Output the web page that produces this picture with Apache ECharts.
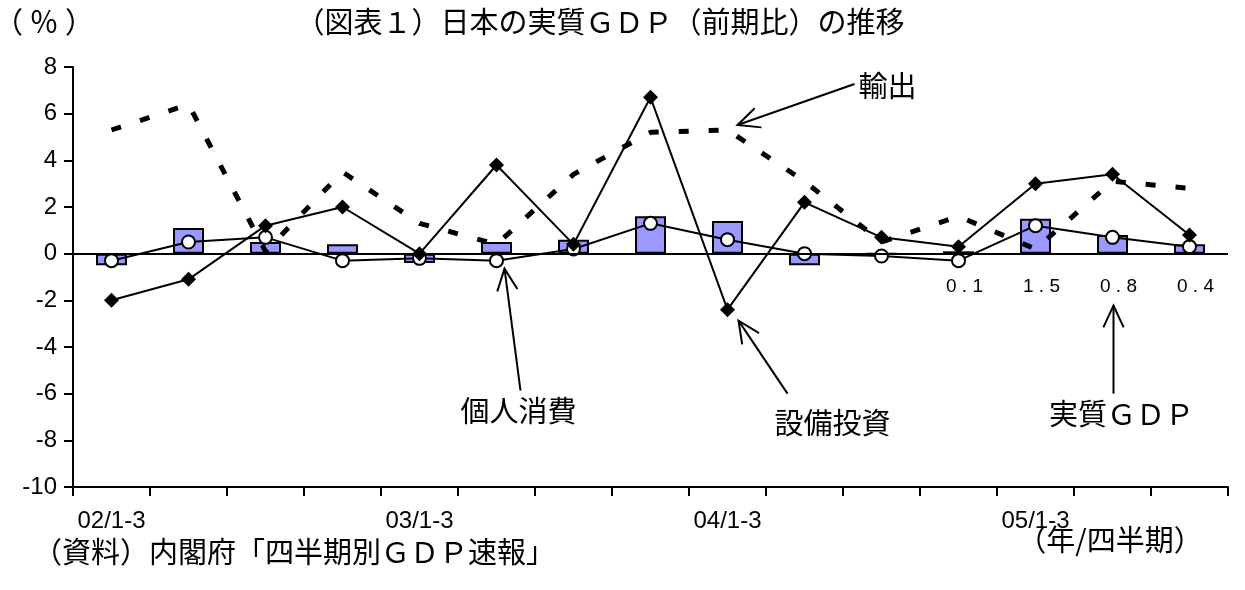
<!DOCTYPE html>
<html>
<head>
<meta charset="utf-8">
<script src="https://cdn.jsdelivr.net/npm/echarts@6/dist/echarts.min.js"></script>
<style>
  html, body { margin: 0; padding: 0; background: #ffffff; }
  #chart { width: 1245px; height: 590px; }
</style>
</head>
<body>
<div id="chart"></div>
<script>
// Quarterly growth rates, % change from previous quarter
const quarters = [
  '02/1-3', '02/4-6', '02/7-9', '02/10-12',
  '03/1-3', '03/4-6', '03/7-9', '03/10-12',
  '04/1-3', '04/4-6', '04/7-9', '04/10-12',
  '05/1-3', '05/4-6', '05/7-9'
];
const realGdp     = [-0.5, 1.1, 0.5, 0.4, -0.4, 0.5, 0.6, 1.6, 1.4, -0.5, 0.0, 0.1, 1.5, 0.8, 0.4];
const consumption = [-0.3, 0.5, 0.7, -0.3, -0.2, -0.3, 0.2, 1.3, 0.6, 0.0, -0.1, -0.3, 1.2, 0.7, 0.3];
const investment  = [-2.0, -1.1, 1.2, 2.0, 0.0, 3.8, 0.4, 6.7, -2.4, 2.2, 0.7, 0.3, 3.0, 3.4, 0.8];
const exportsGrowth = [5.3, 6.4, 0.1, 3.5, 1.3, 0.4, 3.4, 5.2, 5.3, 3.1, 0.5, 1.6, 0.2, 3.1, 2.8];
const yMin = -10, yMax = 8, yStep = 2;
const labelledBars = 4; // the most recent quarters show their GDP value

const CJK = '"Noto Sans CJK JP", "Noto Sans", sans-serif';
const LAT = '"Liberation Sans", Arial, sans-serif';
const CJK_SIZE = 29;

const chart = echarts.init(document.getElementById('chart'), null, { renderer: 'canvas' });

const barData = realGdp.map((v, i) => {
  if (i >= realGdp.length - labelledBars) {
    return { value: v, label: { show: true } };
  }
  return v;
});

chart.setOption({
  animation: false,
  backgroundColor: '#ffffff',
  grid: { left: 73, right: 17, top: 67, bottom: 103, containLabel: false },
  xAxis: {
    type: 'category',
    data: quarters,
    boundaryGap: true,
    axisLine: { onZero: false, lineStyle: { color: '#000', width: 2 } },
    axisTick: { show: true, interval: 0, length: 9, lineStyle: { color: '#000', width: 2 } },
    axisLabel: { interval: 3, color: '#000', fontFamily: LAT, fontSize: 24, margin: 22 },
    splitLine: { show: false }
  },
  yAxis: {
    type: 'value',
    min: yMin, max: yMax, interval: yStep,
    axisLine: { show: true, lineStyle: { color: '#000', width: 2 } },
    axisTick: { show: true, length: 9, lineStyle: { color: '#000', width: 2 } },
    axisLabel: { color: '#000', fontFamily: LAT, fontSize: 24, margin: 16 },
    splitLine: { show: false }
  },
  series: [
    {
      name: '実質GDP',
      type: 'bar',
      data: barData,
      barWidth: 31,
      itemStyle: { color: '#9999FF', borderColor: '#000', borderWidth: 2 },
      label: {
        show: false,
        position: 'bottom',
        distance: 24,
        offset: [6, 0],
        color: '#000',
        fontFamily: LAT,
        fontSize: 19,
        formatter: p => p.value.toFixed(1).split('').join(' ')
      },
      markLine: {
        silent: true,
        symbol: 'none',
        label: { show: false },
        lineStyle: { color: '#000', width: 2, type: 'solid' },
        data: [{ yAxis: 0 }]
      },
      z: 2
    },
    {
      name: '輸出',
      type: 'line',
      data: exportsGrowth,
      symbol: 'none',
      lineStyle: { color: '#000', width: 5, type: [10, 20], cap: 'butt' },
      z: 3
    },
    {
      name: '個人消費',
      type: 'line',
      data: consumption,
      symbol: 'circle',
      symbolSize: 13,
      showAllSymbol: true,
      lineStyle: { color: '#000', width: 2 },
      itemStyle: { color: '#ffffff', borderColor: '#000', borderWidth: 2 },
      z: 4
    },
    {
      name: '設備投資',
      type: 'line',
      data: investment,
      symbol: 'diamond',
      symbolSize: 15,
      showAllSymbol: true,
      lineStyle: { color: '#000', width: 2 },
      itemStyle: { color: '#000' },
      z: 5
    }
  ]
});

// Callout arrows anchored to points on the series
function pt(seriesIndex, i, value) {
  return chart.convertToPixel({ seriesIndex: seriesIndex }, [i, value]);
}

function arrow(tip, tail) {
  const dx = tail[0] - tip[0], dy = tail[1] - tip[1];
  const ang = Math.atan2(dy, dx);
  const len = 24, spread = 25 * Math.PI / 180;
  const a1 = [tip[0] + len * Math.cos(ang + spread), tip[1] + len * Math.sin(ang + spread)];
  const a2 = [tip[0] + len * Math.cos(ang - spread), tip[1] + len * Math.sin(ang - spread)];
  const stroke = { stroke: '#000', lineWidth: 2, fill: null };
  return [
    { type: 'polyline', shape: { points: [tip, tail] }, style: stroke, silent: true, z: 20 },
    { type: 'polyline', shape: { points: [a1, tip, a2] }, style: stroke, silent: true, z: 20 }
  ];
}

function label(text, x, y, align) {
  return {
    type: 'text', x: x, y: y, silent: true, z: 20,
    style: { text: text, fill: '#000', font: CJK_SIZE + 'px ' + CJK, textAlign: align || 'center', textVerticalAlign: 'middle' }
  };
}

const pExp = pt(1, 8, exportsGrowth[8]);
const pCon = pt(2, 5, consumption[5]);
const pInv = pt(3, 8, investment[8]);
const pGdp = pt(0, 13, 0);

const tipExp = [pExp[0] + 10, pExp[1] - 5];
const tipCon = [pCon[0] + 8, pCon[1] + 8];
const tipInv = [pInv[0] + 11, pInv[1] + 11];
const tipGdp = [pGdp[0] + 1, pGdp[1] + 52];

const graphics = [].concat(
  arrow(tipExp, [tipExp[0] + 117, tipExp[1] - 41]),
  arrow(tipCon, [tipCon[0] + 16, tipCon[1] + 122]),
  arrow(tipInv, [tipInv[0] + 49, tipInv[1] + 73]),
  arrow(tipGdp, [tipGdp[0], tipGdp[1] + 88]),
  [
    label('輸出', tipExp[0] + 121, tipExp[1] - 39, 'left'),
    label('個人消費', tipCon[0] + 14, tipCon[1] + 142),
    label('設備投資', tipInv[0] + 94, tipInv[1] + 102),
    label('実質ＧＤＰ', tipGdp[0] + 8, tipGdp[1] + 108),
    label('（ ％ ）', -6, 22, 'left'),
    label('（図表１）日本の実質ＧＤＰ（前期比）の推移', 600, 22),
    label('（資料）内閣府「四半期別ＧＤＰ速報」', 33, 552, 'left'),
    label('（年/四半期）', 1110, 540)
  ]
);

chart.setOption({ graphic: graphics });
</script>
</body>
</html>
